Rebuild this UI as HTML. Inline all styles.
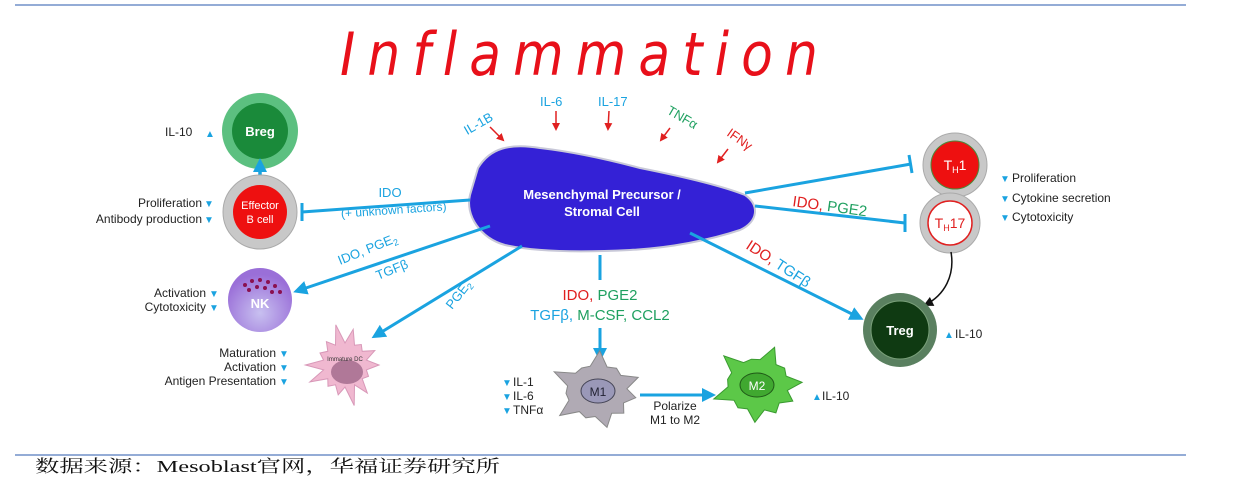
<!DOCTYPE html>
<html><head><meta charset="utf-8"><style>
html,body{margin:0;padding:0;background:#fff;width:1234px;height:494px;overflow:hidden}
svg{display:block;font-family:"Liberation Sans","DejaVu Sans",sans-serif}
</style></head><body>
<svg id="s" width="1234" height="494" viewBox="0 0 1234 494" xmlns="http://www.w3.org/2000/svg">
<defs>
<marker id="ar" markerWidth="8" markerHeight="8" refX="6" refY="4" orient="auto" markerUnits="userSpaceOnUse"><path d="M0,0 L8,4 L0,8 z" fill="#e02020"/></marker>
<marker id="ak" markerWidth="10" markerHeight="10" refX="8" refY="5" orient="auto" markerUnits="userSpaceOnUse"><path d="M0,0 L10,5 L0,10 z" fill="#111"/></marker>
<marker id="abig" markerWidth="14" markerHeight="14" refX="10" refY="7" orient="auto" markerUnits="userSpaceOnUse"><path d="M0,0 L14,7 L0,14 z" fill="#1aa3e0"/></marker>
<radialGradient id="nk" cx="0.5" cy="0.7" r="0.6"><stop offset="0" stop-color="#c8c0f0"/><stop offset="1" stop-color="#9a6fd8"/></radialGradient>
</defs>
<line x1="15" y1="5" x2="1186" y2="5" stroke="#7090c8" stroke-width="1.5"/>
<line x1="15" y1="455" x2="1186" y2="455" stroke="#7090c8" stroke-width="1.5"/>
<text x="35" y="472" font-size="17" fill="#111" font-family="'Liberation Serif','Noto Serif CJK SC',serif" textLength="465" lengthAdjust="spacingAndGlyphs">数据来源：Mesoblast官网，华福证券研究所</text>

<text x="340" y="75" font-size="60" fill="#e8101a" font-style="italic" letter-spacing="14" font-family="'DejaVu Sans','Liberation Sans',sans-serif" textLength="490" lengthAdjust="spacingAndGlyphs">Inflammation</text>

<path d="M478,168 C490,148 510,143 540,148 C575,152 610,160 640,168 C680,176 720,185 745,195 C760,205 758,222 740,230 C710,240 670,248 630,250 C590,252 540,253 505,245 C480,238 465,215 470,195 Z" fill="#3421d6" stroke="#c8c8d8" stroke-width="2"/>
<text x="602" y="199" font-size="13" fill="#fff" text-anchor="middle" font-weight="bold">Mesenchymal Precursor /</text>
<text x="602" y="216" font-size="13" fill="#fff" text-anchor="middle" font-weight="bold">Stromal Cell</text>

<text x="462" y="128" font-size="13" fill="#1aa3e0" transform="rotate(-30 478 122)">IL-1B</text>
<line x1="490" y1="127" x2="503" y2="140" stroke="#e02020" stroke-width="1.5" marker-end="url(#ar)"/>
<text x="540" y="106" font-size="13" fill="#1aa3e0">IL-6</text>
<line x1="556" y1="111" x2="556" y2="129" stroke="#e02020" stroke-width="1.5" marker-end="url(#ar)"/>
<text x="598" y="106" font-size="13" fill="#1aa3e0">IL-17</text>
<line x1="609" y1="111" x2="608" y2="129" stroke="#e02020" stroke-width="1.5" marker-end="url(#ar)"/>
<text x="666" y="113" font-size="13" fill="#1fa060" transform="rotate(30 666 113)">TNFα</text>
<line x1="670" y1="128" x2="661" y2="140" stroke="#e02020" stroke-width="1.5" marker-end="url(#ar)"/>
<text x="726" y="135" font-size="13" fill="#e02020" transform="rotate(35 726 135)">IFNγ</text>
<line x1="728" y1="149" x2="718" y2="162" stroke="#e02020" stroke-width="1.5" marker-end="url(#ar)"/>

<circle cx="260" cy="131" r="38" fill="#5cc080"/>
<circle cx="260" cy="131" r="28" fill="#1a8a3a"/>
<text x="260" y="136" font-size="13" fill="#fff" text-anchor="middle" font-weight="bold">Breg</text>
<text x="165" y="136" font-size="12" fill="#222">IL-10</text><text x="205" y="137" font-size="10" fill="#1aa3e0">▲</text>
<line x1="260" y1="188" x2="260" y2="162" stroke="#1aa3e0" stroke-width="3.5" marker-end="url(#abig)"/>

<circle cx="260" cy="212" r="37" fill="#c8c8c8" stroke="#aaa"/>
<circle cx="260" cy="212" r="27" fill="#ee1010"/>
<text x="260" y="209" font-size="11" fill="#fff" text-anchor="middle">Effector</text>
<text x="260" y="223" font-size="11" fill="#fff" text-anchor="middle">B cell</text>
<text x="202" y="207" font-size="12" fill="#222" text-anchor="end">Proliferation</text><text x="204" y="207" font-size="10" fill="#1aa3e0">▼</text>
<text x="202" y="223" font-size="12" fill="#222" text-anchor="end">Antibody production</text><text x="204" y="223" font-size="10" fill="#1aa3e0">▼</text>
<line x1="470" y1="200" x2="302" y2="212" stroke="#1aa3e0" stroke-width="3"/>
<line x1="302" y1="203" x2="302" y2="221" stroke="#1aa3e0" stroke-width="3"/>
<text x="390" y="197" font-size="13" fill="#1aa3e0" text-anchor="middle">IDO</text>
<text x="394" y="214" font-size="12" fill="#1aa3e0" text-anchor="middle" transform="rotate(-4 394 214)">(+ unknown factors)</text>

<circle cx="260" cy="300" r="32" fill="url(#nk)"/>
<g fill="#8a1050"><circle cx="245" cy="285" r="2"/><circle cx="252" cy="281" r="2"/><circle cx="260" cy="280" r="2"/><circle cx="268" cy="282" r="2"/><circle cx="275" cy="286" r="2"/><circle cx="249" cy="290" r="2"/><circle cx="257" cy="287" r="2"/><circle cx="265" cy="288" r="2"/><circle cx="272" cy="292" r="2"/><circle cx="280" cy="292" r="2"/></g>
<text x="260" y="308" font-size="13" fill="#fff" text-anchor="middle" font-weight="bold">NK</text>
<text x="206" y="297" font-size="12" fill="#222" text-anchor="end">Activation</text><text x="209" y="297" font-size="10" fill="#1aa3e0">▼</text>
<text x="206" y="311" font-size="12" fill="#222" text-anchor="end">Cytotoxicity</text><text x="209" y="311" font-size="10" fill="#1aa3e0">▼</text>
<line x1="490" y1="226" x2="297" y2="291" stroke="#1aa3e0" stroke-width="3" marker-end="url(#abig)"/>
<text x="340" y="265" font-size="13" fill="#1aa3e0" transform="rotate(-22 340 265)">IDO, PGE<tspan font-size="9" dy="3">2</tspan></text>
<text x="378" y="280" font-size="13" fill="#1aa3e0" transform="rotate(-22 378 280)">TGFβ</text>

<path id="dc" d="" fill="#f0b8d0" stroke="#d898b8"/>
<ellipse cx="347" cy="372" rx="16" ry="12" fill="#b07898"/>
<text x="345" y="361" font-size="6" fill="#333" text-anchor="middle">Immature DC</text>
<text x="276" y="357" font-size="12" fill="#222" text-anchor="end">Maturation</text><text x="279" y="357" font-size="10" fill="#1aa3e0">▼</text>
<text x="276" y="371" font-size="12" fill="#222" text-anchor="end">Activation</text><text x="279" y="371" font-size="10" fill="#1aa3e0">▼</text>
<text x="276" y="385" font-size="12" fill="#222" text-anchor="end">Antigen Presentation</text><text x="279" y="385" font-size="10" fill="#1aa3e0">▼</text>
<line x1="522" y1="246" x2="375" y2="336" stroke="#1aa3e0" stroke-width="3" marker-end="url(#abig)"/>
<text x="452" y="310" font-size="13" fill="#1aa3e0" transform="rotate(-52 452 310)">PGE<tspan font-size="9" dy="3">2</tspan></text>

<line x1="600" y1="255" x2="600" y2="280" stroke="#1aa3e0" stroke-width="3"/>
<text x="600" y="300" font-size="15" text-anchor="middle"><tspan fill="#e02020">IDO, </tspan><tspan fill="#1fa060">PGE2</tspan></text>
<text x="600" y="320" font-size="15" text-anchor="middle"><tspan fill="#1aa3e0">TGFβ, </tspan><tspan fill="#1fa060">M-CSF, CCL2</tspan></text>
<line x1="600" y1="328" x2="600" y2="358" stroke="#1aa3e0" stroke-width="3" marker-end="url(#abig)"/>

<polygon id="m1" fill="#b0aab4" stroke="#888"/>
<ellipse cx="598" cy="391" rx="17" ry="12" fill="#9a98b8" stroke="#445"/>
<text x="598" y="396" font-size="12" fill="#223" text-anchor="middle">M1</text>
<polygon id="m2" fill="#5cc848" stroke="#3a9a30"/>
<ellipse cx="757" cy="385" rx="17" ry="12" fill="#40a830" stroke="#205a18"/>
<text x="757" y="390" font-size="12" fill="#fff" text-anchor="middle">M2</text>
<line x1="640" y1="395" x2="712" y2="395" stroke="#1aa3e0" stroke-width="3" marker-end="url(#abig)"/>
<text x="675" y="410" font-size="12" fill="#222" text-anchor="middle">Polarize</text>
<text x="675" y="424" font-size="12" fill="#222" text-anchor="middle">M1 to M2</text>
<g font-size="12" fill="#222"><text x="513" y="386">IL-1</text><text x="513" y="400">IL-6</text><text x="513" y="414">TNFα</text></g>
<g font-size="10" fill="#1aa3e0"><text x="502" y="386">▼</text><text x="502" y="400">▼</text><text x="502" y="414">▼</text><text x="812" y="400">▲</text></g>
<text x="822" y="400" font-size="12" fill="#222">IL-10</text>

<circle cx="955" cy="165" r="32" fill="#c8c8c8" stroke="#aaa"/>
<circle cx="955" cy="165" r="24" fill="#ee1010" stroke="#4a8a3a"/>
<text x="955" y="170" font-size="14" fill="#fff" text-anchor="middle">T<tspan font-size="9" dy="3">H</tspan><tspan dy="-3">1</tspan></text>
<circle cx="950" cy="223" r="30" fill="#c8c8c8" stroke="#aaa"/>
<circle cx="950" cy="223" r="22" fill="#fff" stroke="#e02020" stroke-width="1.5"/>
<text x="950" y="228" font-size="14" fill="#e02020" text-anchor="middle">T<tspan font-size="9" dy="3">H</tspan><tspan dy="-3">17</tspan></text>
<line x1="745" y1="193" x2="911" y2="164" stroke="#1aa3e0" stroke-width="3"/>
<line x1="909" y1="155" x2="912" y2="173" stroke="#1aa3e0" stroke-width="3"/>
<line x1="755" y1="206" x2="905" y2="223" stroke="#1aa3e0" stroke-width="3"/>
<line x1="905" y1="214" x2="905" y2="232" stroke="#1aa3e0" stroke-width="3"/>
<text x="792" y="206" font-size="15" transform="rotate(8 792 206)"><tspan fill="#e02020">IDO, </tspan><tspan fill="#1fa060">PGE2</tspan></text>
<g font-size="12" fill="#222"><text x="1012" y="182">Proliferation</text><text x="1012" y="202">Cytokine secretion</text><text x="1012" y="221">Cytotoxicity</text></g>
<g font-size="10" fill="#1aa3e0"><text x="1000" y="182">▼</text><text x="1000" y="202">▼</text><text x="1000" y="221">▼</text></g>

<path d="M951,252 C955,275 945,295 925,305" fill="none" stroke="#111" stroke-width="1.5" marker-end="url(#ak)"/>

<circle cx="900" cy="330" r="37" fill="#5a8060"/>
<circle cx="900" cy="330" r="29" fill="#0f3a12" stroke="#7aa07a"/>
<text x="900" y="335" font-size="13" fill="#fff" text-anchor="middle" font-weight="bold">Treg</text>
<text x="944" y="338" font-size="10" fill="#1aa3e0">▲</text><text x="955" y="338" font-size="12" fill="#222">IL-10</text>
<line x1="690" y1="233" x2="860" y2="318" stroke="#1aa3e0" stroke-width="3" marker-end="url(#abig)"/>
<text x="745" y="248" font-size="15" transform="rotate(33 745 248)"><tspan fill="#e02020">IDO, </tspan><tspan fill="#1aa3e0">TGFβ</tspan></text>
</svg>
<script>
function star(cx,cy,n,r1,r2,seed){var p=[];for(var i=0;i<2*n;i++){var a=i*Math.PI/n+seed;var r=i%2?r2:r1*(0.9+0.2*Math.sin(i*1.7));p.push((cx+r*Math.cos(a)).toFixed(1)+","+(cy+r*Math.sin(a)*0.85).toFixed(1));}return p.join(" ");}
document.getElementById('m1').setAttribute('points',star(597,391,11,44,30,0.2));
document.getElementById('m2').setAttribute('points',star(758,385,11,44,30,0.5));
var d="",cx=345,cy=365,n=14;for(var i=0;i<n*2;i++){var a=i*Math.PI/n;var r=i%2?22:(34+8*Math.sin(i*2.3));d+=(i?"L":"M")+(cx+r*Math.cos(a)).toFixed(1)+","+(cy+r*Math.sin(a)).toFixed(1);}
document.getElementById('dc').setAttribute('d',d+"Z");
</script>
</body></html>
